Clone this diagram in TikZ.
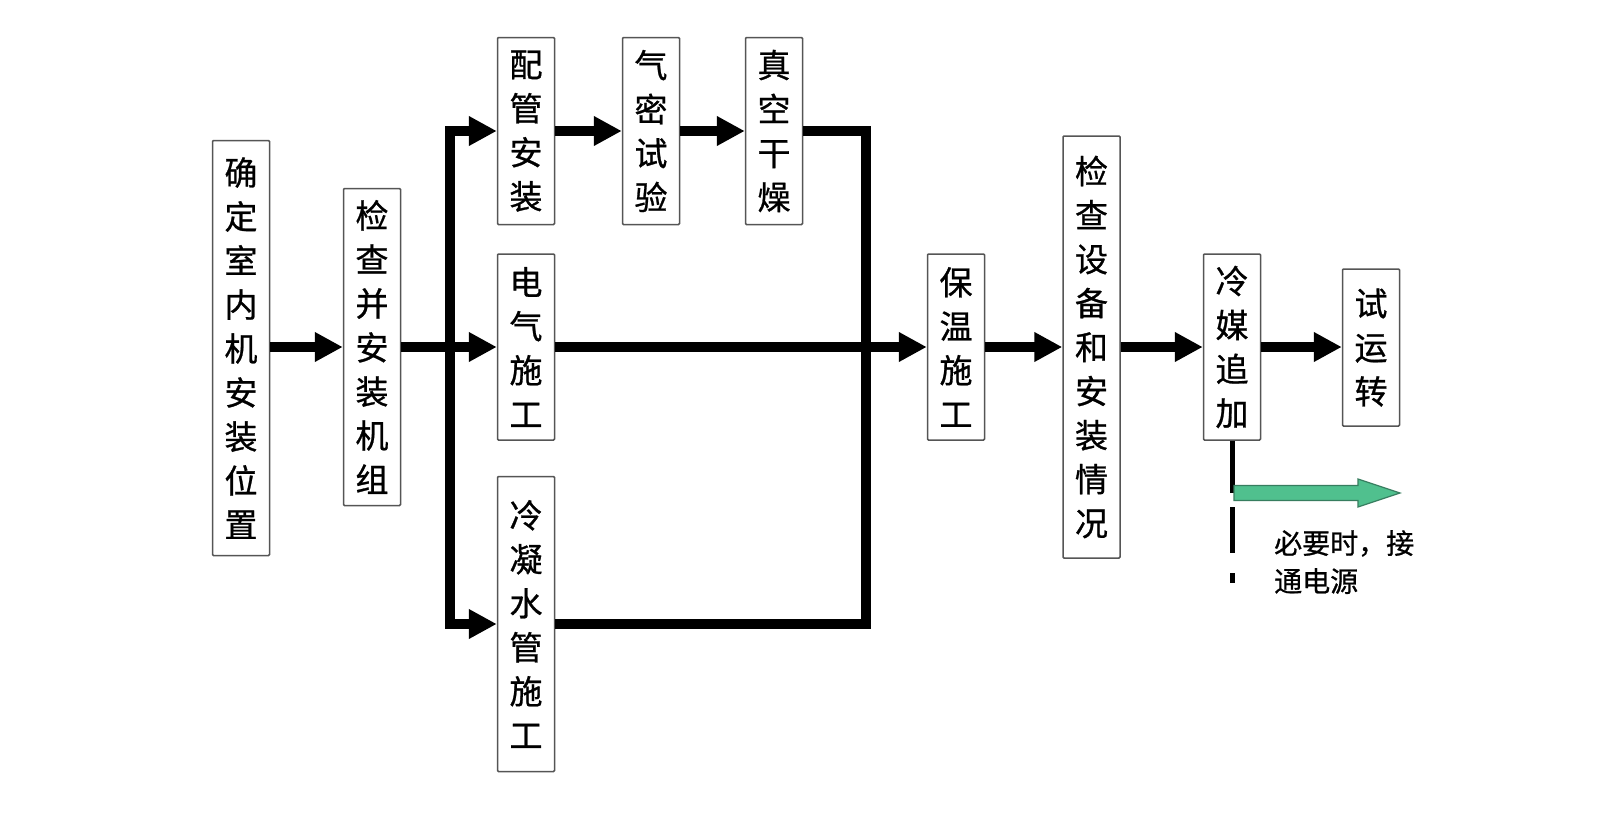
\documentclass[tikz,border=0pt]{standalone}
\usepackage{fontspec}
\newfontfamily\cjk[FakeBold=0.8]{Noto Sans CJK SC}
\usetikzlibrary{arrows.meta}
\definecolor{boxline}{RGB}{85,85,85}
\definecolor{gfill}{RGB}{80,192,142}
\definecolor{gdraw}{RGB}{55,125,95}
\begin{document}
\begin{tikzpicture}[x=1pt,y=-1pt,
  box/.style={draw=boxline, line width=1.5pt, rounded corners=1pt, inner sep=0pt,
    align=center, font=\cjk\fontsize{33}{44}\selectfont, minimum width=57pt},
  flow/.style={line width=10pt, -{Triangle[length=28pt,width=28pt]}},
  bar/.style={line width=10pt},
  twoflow/.style={line width=10pt, {Triangle[length=28pt,width=28pt]}-{Triangle[length=28pt,width=28pt]}},
  note/.style={anchor=north west, align=left, inner sep=0pt, font=\cjk\fontsize{28}{38}\selectfont},
]
\useasboundingbox (0,0) rectangle (1610,812);
\fill[white] (0,0) rectangle (1610,812);

% nodes
\node[box, minimum height=415pt] (b1) at (241,348) {确\\定\\室\\内\\机\\安\\装\\位\\置};
\node[box, minimum height=317pt] (b2) at (372,347) {检\\查\\并\\安\\装\\机\\组};
\node[box, minimum height=187pt] (p1) at (526,131) {配\\管\\安\\装};
\node[box, minimum height=187pt] (p2) at (651,131) {气\\密\\试\\验};
\node[box, minimum height=187pt] (p3) at (774,131) {真\\空\\干\\燥};
\node[box, minimum height=186pt] (e) at (526,347) {电\\气\\施\\工};
\node[box, minimum height=295pt] (c) at (526,624) {冷\\凝\\水\\管\\施\\工};
\node[box, minimum height=186pt] (bw) at (956,347) {保\\温\\施\\工};
\node[box, minimum height=422pt] (chk) at (1091.5,347) {检\\查\\设\\备\\和\\安\\装\\情\\况};
\node[box, minimum height=186pt] (lm) at (1232,347) {冷\\媒\\追\\加};
\node[box, minimum height=157pt] (sy) at (1371,347.5) {试\\运\\转};

\coordinate (lb) at (450,400);
\coordinate (rb) at (866,400);

% connectors
\draw[flow] (b1.east |- b2.west) -- (b2.west);
\draw[twoflow] (p1.west) -- (lb |- p1.west) -- (lb |- c.west) -- (c.west);
\draw[flow] (b2.east) -- (e.west);
\draw[flow] (p1.east) -- (p2.west);
\draw[flow] (p2.east) -- (p3.west);
\draw[bar] (p3.east) -- (rb |- p3.east) -- (rb |- c.east) -- (c.east);
\draw[flow] (e.east) -- (bw.west);
\draw[flow] (bw.east) -- (chk.west |- bw.east);
\draw[flow] (chk.east |- lm.west) -- (lm.west);
\draw[flow] (lm.east) -- (sy.west |- lm.east);

% branch below 冷媒追加
\coordinate (g0) at (1234,493);
\coordinate (d0) at (1232,507);
\draw[line width=5pt] (lm.south) -- (lm.south |- g0);
\draw[line width=5pt, dash pattern=on 46pt off 20pt on 10pt off 60pt] (d0) -- ++(0,76);
\draw[fill=gfill, draw=gdraw, line width=1.2pt, line join=miter]
  (g0) ++(0,-7.5) -- ++(124,0) -- ++(0,-6.5) -- ++(42,14) -- ++(-42,14) -- ++(0,-6.5) -- ++(-124,0) -- cycle;
\node[note] (txt) at (1274,530) {必要时，接\\通电源};
\end{tikzpicture}
\end{document}
